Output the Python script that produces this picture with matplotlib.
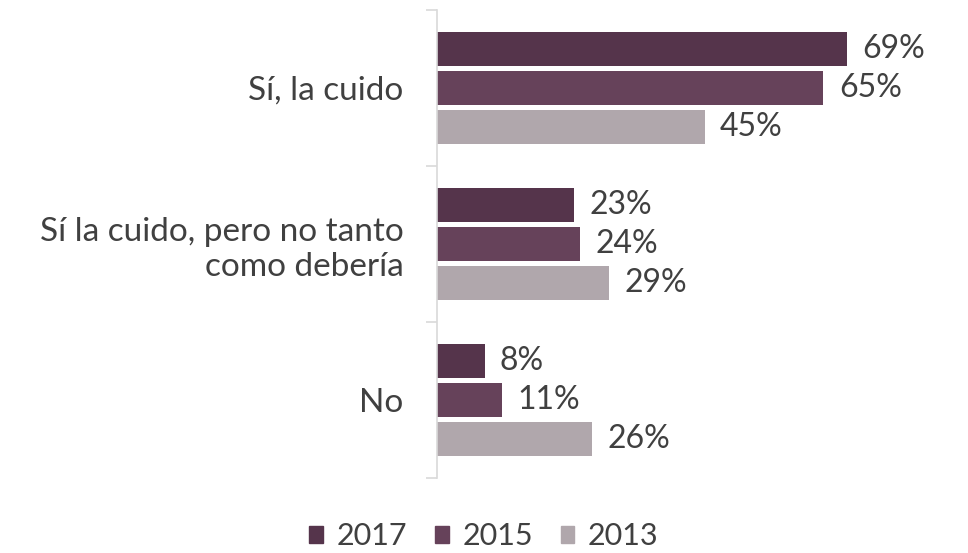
import numpy as np
import matplotlib.pyplot as plt
from matplotlib.patches import Patch

categorias = ["Sí, la cuido", "Sí la cuido, pero no tanto\ncomo debería", "No"]
anios = ["2017", "2015", "2013"]
v2017 = [69, 23, 8]
v2015 = [65, 24, 11]
v2013 = [45, 29, 26]
colores = ["#55344B", "#66425A", "#B0A7AC"]

plt.rcParams['font.family'] = ['Lato', 'DejaVu Sans']
txt = "#404040"

fig = plt.figure(figsize=(9.68, 5.53), dpi=100)
ax = fig.add_axes([0.4514, 0.1356, 0.5486, 0.8463])

y = np.arange(len(categorias))
paso = 0.25
alto = 0.22
for i, (vals, c) in enumerate(zip([v2017, v2015, v2013], colores)):
    pos = y + (i - 1) * paso
    ax.barh(pos, vals, height=alto, color=c, label=anios[i])
    for p, v in zip(pos, vals):
        ax.text(v + 2.6, p, f"{v}%", va='center', ha='left', fontsize=23, color=txt)

ax.set_xlim(0, 89.3)
ax.set_ylim(2.5, -0.5)
ax.set_xticks([])
for s in ['top', 'right', 'bottom']:
    ax.spines[s].set_visible(False)
ax.spines['left'].set_color('#D9D9D9')
ax.spines['left'].set_linewidth(1.2)

ax.set_yticks(y)
ax.set_yticklabels(categorias, fontsize=24, color=txt, ha='right', multialignment='right')
ax.tick_params(axis='y', which='major', length=0, pad=24)
ax.set_yticks(np.arange(-0.5, 3, 1), minor=True)
ax.tick_params(axis='y', which='minor', length=8, color='#D9D9D9', width=1.2)

handles = [Patch(color=c, label=a) for a, c in zip(anios, colores)]
fig.legend(handles=handles, loc='center', bbox_to_anchor=(0.5, 0.03), ncol=3,
           frameon=False, fontsize=22, handlelength=0.45, handleheight=0.45,
           handletextpad=0.45, columnspacing=0.9, labelcolor=txt)

fig.savefig("out.png", dpi=100)
